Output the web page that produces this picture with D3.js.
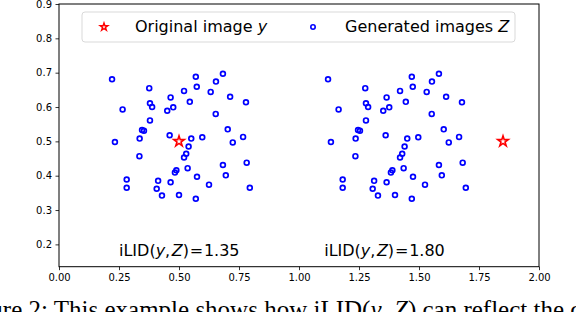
<!DOCTYPE html>
<html>
<head>
<meta charset="utf-8">
<script src="https://cdn.jsdelivr.net/npm/d3@7"></script>
<style>
  html, body { margin: 0; padding: 0; background: #fff; }
  svg { display: block; }
</style>
</head>
<body>
<svg id="chart" width="576" height="312"></svg>
<script>
// ---- data ----
const zX = [0.221,0.376,0.570,0.683,0.654,0.574,0.521,0.465,0.632,0.713,
            0.779,0.545,0.379,0.388,0.476,0.451,0.265,0.653,0.379,0.346,
            0.354,0.461,0.703,0.767,0.336,0.233,0.551,0.597,0.724,0.540,
            0.530,0.521,0.335,0.782,0.683,0.536,0.489,0.483,0.695,0.282,
            0.575,0.413,0.465,0.625,0.282,0.407,0.795,0.429,0.500,0.570];
const zY = [0.681,0.655,0.688,0.697,0.674,0.659,0.647,0.628,0.644,0.630,
            0.614,0.615,0.611,0.600,0.599,0.589,0.593,0.580,0.561,0.533,
            0.531,0.518,0.535,0.513,0.508,0.498,0.508,0.512,0.497,0.485,
            0.464,0.453,0.457,0.438,0.431,0.422,0.416,0.409,0.401,0.389,
            0.397,0.385,0.381,0.374,0.365,0.362,0.365,0.342,0.344,0.333];
const clusterShift = [0, 0.9];
const starX = [0.5, 1.85];
const starY = [0.5, 0.5];
const iLIDValues = ["1.35", "1.80"];
const iLIDLabelX = [0.25, 1.105];
const iLIDLabelY = 0.18;
const xTicks = [0, 0.25, 0.5, 0.75, 1.0, 1.25, 1.5, 1.75, 2.0];
const yTicks = [0.2, 0.3, 0.4, 0.5, 0.6, 0.7, 0.8, 0.9];
const xDomain = [0, 2];
const yDomain = [0.135, 0.9];

// ---- layout ----
const svg = d3.select("#chart");
const L = 59, R = 539, T = 4, B = 266.7;
const x = d3.scaleLinear().domain(xDomain).range([L, R]);
const y = d3.scaleLinear().domain(yDomain).range([B, T]);
const font = "'DejaVu Sans', sans-serif";

// points
const pts = [];
clusterShift.forEach(s => zX.forEach((v, i) => pts.push([v + s, zY[i]])));
svg.append("g").selectAll("circle").data(pts).join("circle")
  .attr("cx", d => x(d[0])).attr("cy", d => y(d[1])).attr("r", 2.4)
  .attr("fill", "none").attr("stroke", "#0000ff").attr("stroke-width", 1.7);

const starPath = d3.symbol(d3.symbolStar, 34)();
svg.append("g").selectAll("path").data(starX).join("path")
  .attr("d", starPath)
  .attr("transform", (d, i) => `translate(${x(d)},${y(starY[i])})`)
  .attr("fill", "none").attr("stroke", "#ff0000").attr("stroke-width", 1.6);

// iLID labels
iLIDValues.forEach((v, i) => {
  const t = svg.append("text")
    .attr("x", x(iLIDLabelX[i])).attr("y", y(iLIDLabelY) + 5)
    .attr("font-family", font).attr("font-size", 16).attr("fill", "#000");
  t.append("tspan").text("iLID(");
  t.append("tspan").attr("font-style", "italic").text("y");
  t.append("tspan").text(",");
  t.append("tspan").attr("dx", 1.5).attr("font-style", "italic").text("Z");
  t.append("tspan").text(")");
  t.append("tspan").attr("dx", 0.8).text("=");
  t.append("tspan").attr("dx", 0.8).text(v);
});

// frame
svg.append("rect").attr("x", L).attr("y", T).attr("width", R - L).attr("height", B - T)
  .attr("fill", "none").attr("stroke", "#000").attr("stroke-width", 1);

// axes
const xAxis = d3.axisBottom(x).tickValues(xTicks).tickFormat(d3.format(".2f")).tickSize(3.5).tickPadding(3.5);
const yAxis = d3.axisLeft(y).tickValues(yTicks).tickFormat(d3.format(".1f")).tickSize(3.5).tickPadding(3.5);
const gx = svg.append("g").attr("transform", `translate(0,${B})`).call(xAxis);
const gy = svg.append("g").attr("transform", `translate(${L},0)`).call(yAxis);
[gx, gy].forEach(g => {
  g.select(".domain").remove();
  g.selectAll("text").attr("font-family", font).attr("font-size", 10).attr("fill", "#000");
  g.selectAll("line").attr("stroke", "#000").attr("stroke-width", 0.8);
});

// legend
const lg = svg.append("g");
lg.append("rect").attr("x", 82).attr("y", 12).attr("width", 433).attr("height", 30)
  .attr("rx", 3).attr("fill", "#fff").attr("fill-opacity", 0.8)
  .attr("stroke", "#d9d9d9").attr("stroke-width", 1);
lg.append("path").attr("d", d3.symbol(d3.symbolStar, 18)())
  .attr("transform", "translate(104,27)")
  .attr("fill", "none").attr("stroke", "#ff0000").attr("stroke-width", 1.4);
const t1 = lg.append("text").attr("x", 135).attr("y", 32)
  .attr("font-family", font).attr("font-size", 16).attr("fill", "#000");
t1.append("tspan").text("Original image ");
t1.append("tspan").attr("font-style", "italic").text("y");
lg.append("circle").attr("cx", 313).attr("cy", 27).attr("r", 2.2)
  .attr("fill", "none").attr("stroke", "#0000ff").attr("stroke-width", 1.6);
const t2 = lg.append("text").attr("x", 345).attr("y", 32)
  .attr("font-family", font).attr("font-size", 16).attr("fill", "#000");
t2.append("tspan").text("Generated images ");
t2.append("tspan").attr("font-style", "italic").text("Z");

// caption (cut off, as in the source page)
const cap = svg.append("text").attr("x", -43).attr("y", 318)
  .attr("font-family", "'Liberation Serif', serif").attr("font-size", 25).attr("fill", "#000");
cap.append("tspan").text("Figure 2: This example shows how iLID(");
cap.append("tspan").attr("font-style", "italic").text("y");
cap.append("tspan").text(", ");
cap.append("tspan").attr("font-style", "italic").text("Z");
cap.append("tspan").text(") can reflect the compactness");
</script>
</body>
</html>
